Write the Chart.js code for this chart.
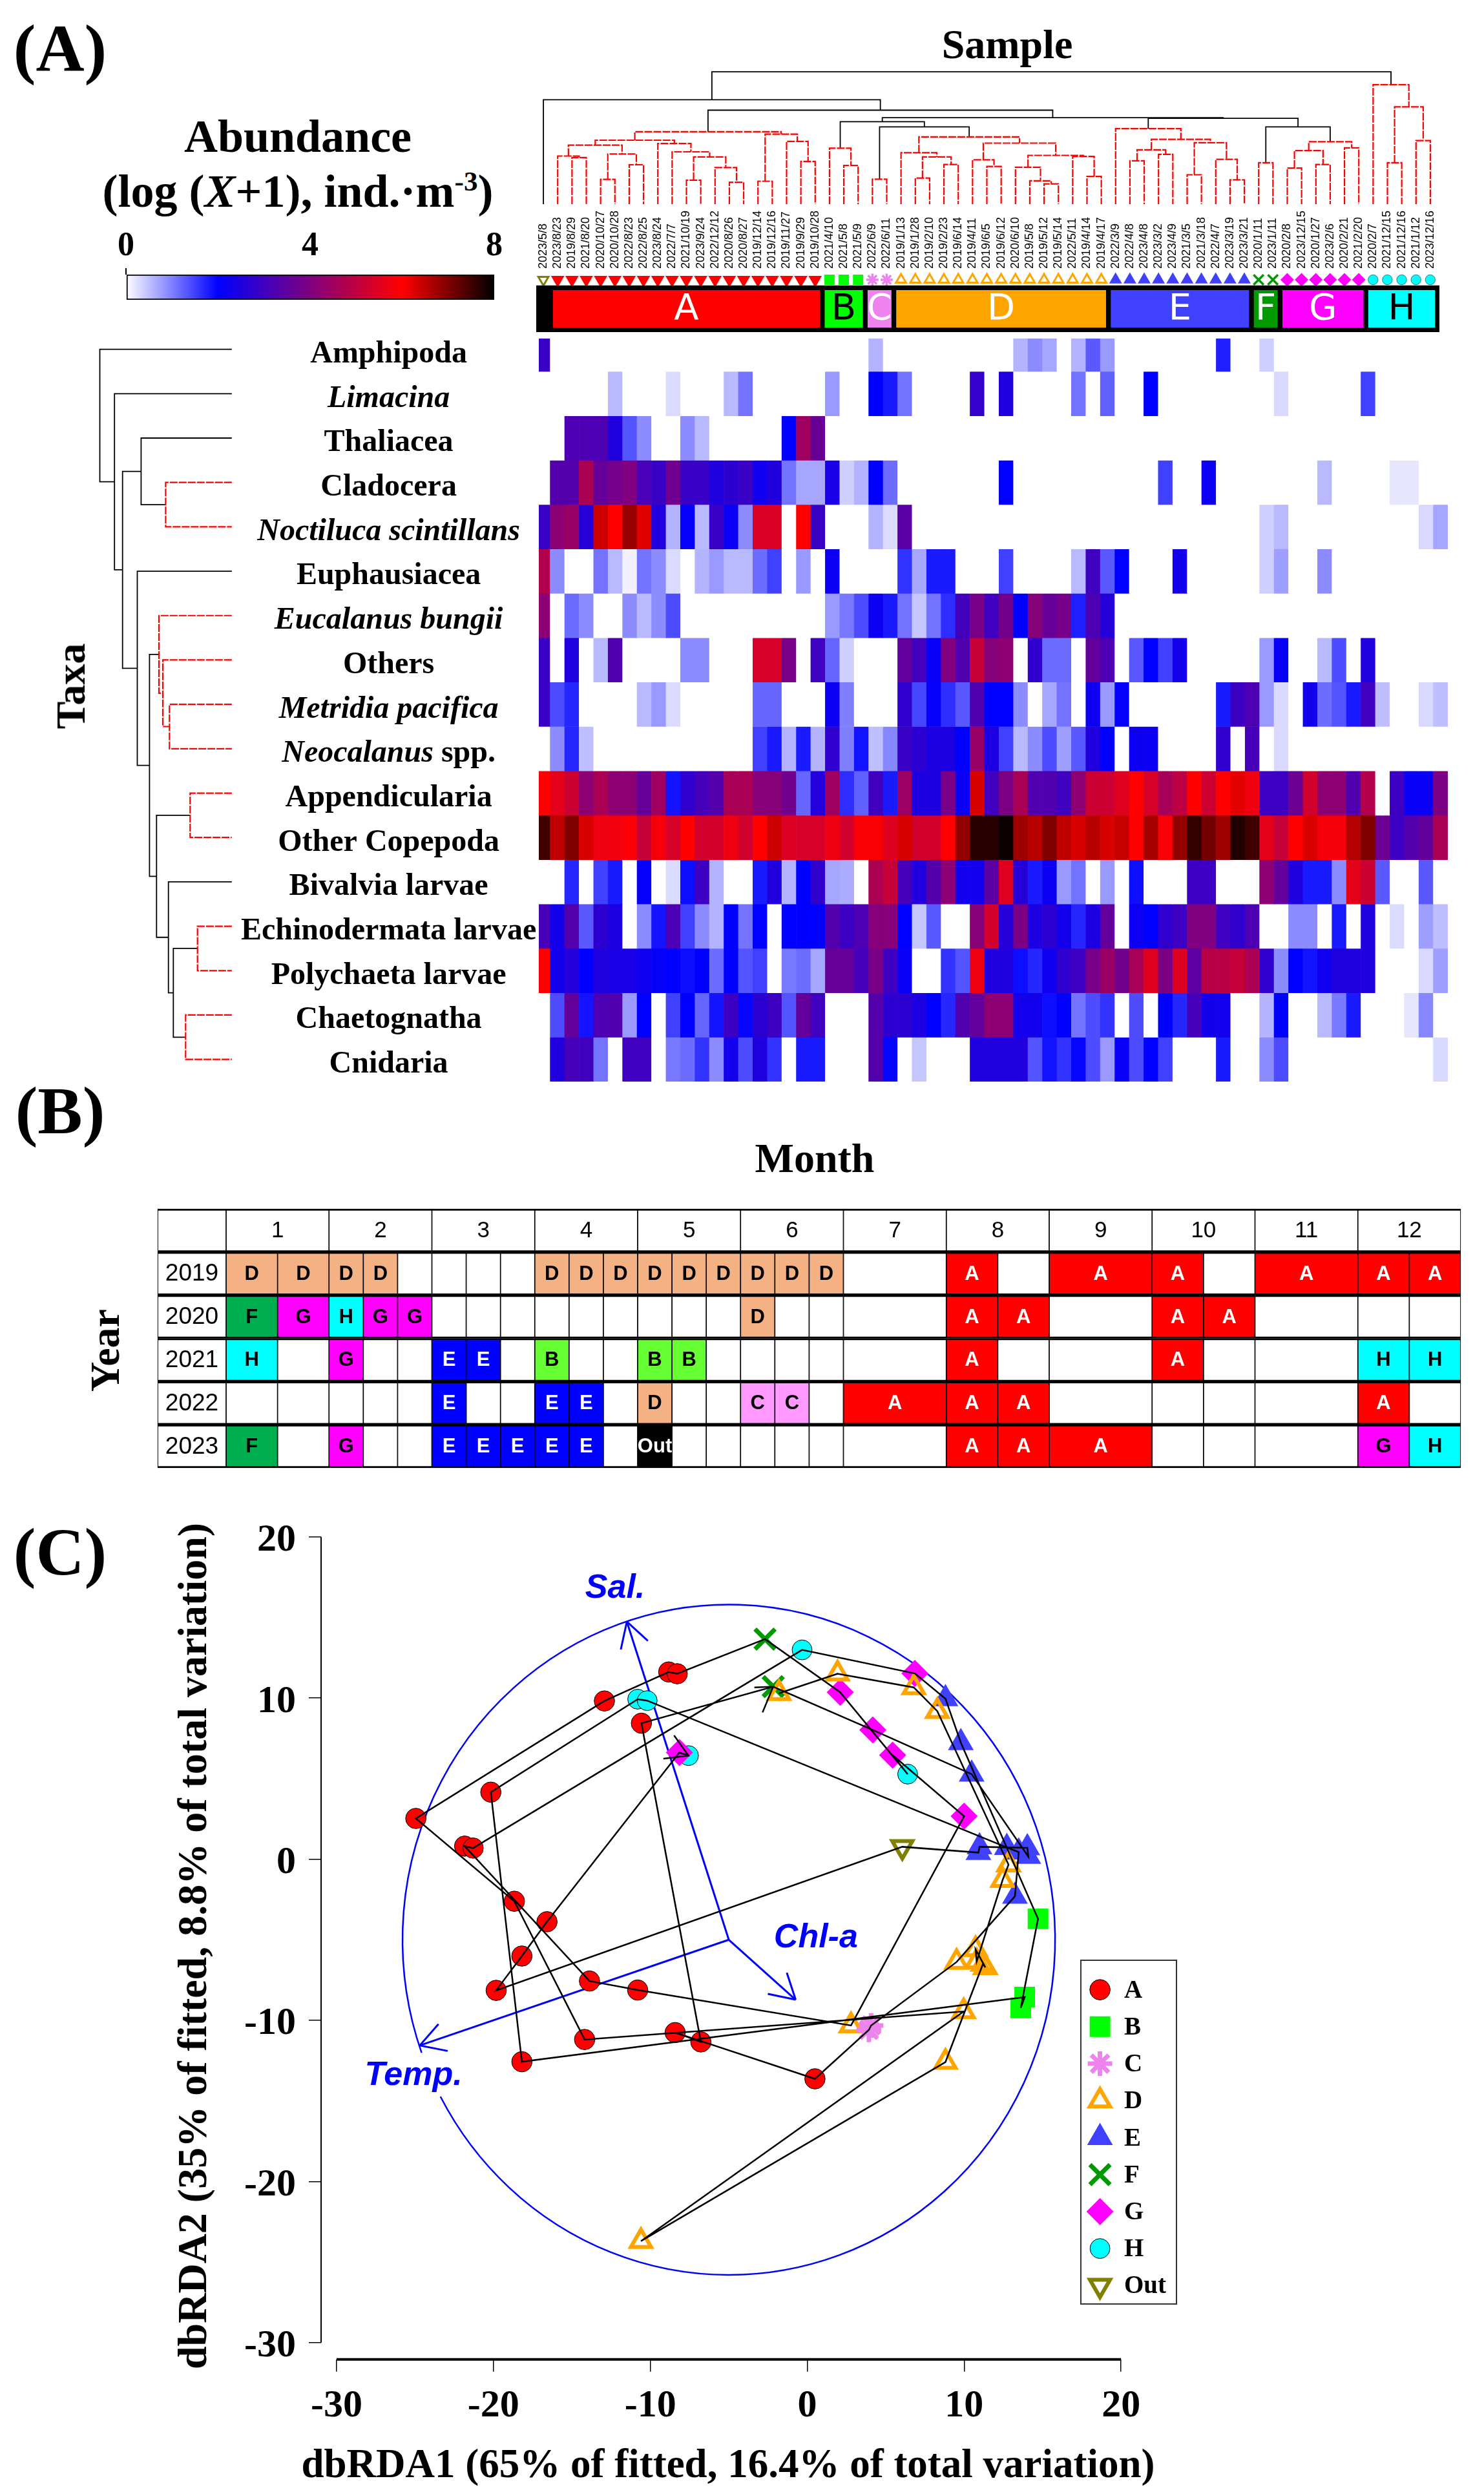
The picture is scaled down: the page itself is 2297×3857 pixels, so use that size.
<!DOCTYPE html>
<html>
<head>
<meta charset="utf-8">
<title>Zooplankton abundance, calendar and dbRDA</title>
<script src="https://cdn.jsdelivr.net/npm/chart.js@4/dist/chart.umd.min.js"></script>
<style>
html, body { margin: 0; background: #fff; }
body { position: relative; width: 2297px; height: 3857px; overflow: hidden; }
canvas { position: absolute; }
.title { position: absolute; font: bold 64px "Liberation Serif", serif; line-height: 1; white-space: nowrap; color: #000; transform: translateX(-50%); z-index: 2; }
.title.turned { transform: translate(-50%, -50%) rotate(-90deg); }
.title sup { font-size: 60%; line-height: 0; }
</style>
</head>
<body>
<div class="title" style="left:93px;top:23px;font-size:104px">(A)</div>
<div class="title" style="left:93px;top:1667px;font-size:104px">(B)</div>
<div class="title" style="left:93px;top:2350px;font-size:104px">(C)</div>
<div class="title" style="left:1559px;top:37px">Sample</div>
<div class="title" style="left:461px;top:175px;font-size:72px">Abundance</div>
<div class="title" style="left:461px;top:260px;font-size:72px">(log (<i>X</i>+1), ind.·m<sup>-3</sup>)</div>
<div class="title turned" style="left:110px;top:1062px">Taxa</div>
<div class="title" style="left:1261px;top:1761px">Month</div>
<div class="title turned" style="left:163px;top:2090px">Year</div>
<div class="title" style="left:1127px;top:3782px;font-size:63px">dbRDA1 (65% of fitted, 16.4% of total variation)</div>
<div class="title turned" style="left:298px;top:3012px">dbRDA2 (35% of fitted, 8.8% of total variation)</div>

<script>
// ---- panel A data ----
var taxa = ['Amphipoda', 'Limacina', 'Thaliacea', 'Cladocera', 'Noctiluca scintillans', 'Euphausiacea',
    'Eucalanus bungii', 'Others', 'Metridia pacifica', 'Neocalanus spp.', 'Appendicularia', 'Other Copepoda',
    'Bivalvia larvae', 'Echinodermata larvae', 'Polychaeta larvae', 'Chaetognatha', 'Cnidaria'];
var italicTaxa = ['Limacina', 'Noctiluca scintillans', 'Eucalanus bungii', 'Metridia pacifica'];

var sampleDates = ['2023/5/8',
    '2023/8/23', '2019/8/29', '2021/8/20', '2020/10/27', '2020/10/28', '2022/8/23', '2022/8/25', '2023/8/24', '2022/7/7', '2021/10/19',
    '2023/9/24', '2022/12/12', '2020/8/26', '2020/8/27', '2019/12/14', '2019/12/16', '2019/11/27', '2019/9/29', '2019/10/28',
    '2021/4/10', '2021/5/8', '2021/5/9', '2022/6/9', '2022/6/11',
    '2019/1/13', '2019/1/28', '2019/2/10', '2019/2/23', '2019/6/14', '2019/4/11', '2019/6/5', '2019/6/12', '2020/6/10',
    '2019/5/8', '2019/5/12', '2019/5/14', '2022/5/11', '2019/4/14', '2019/4/17',
    '2022/3/9', '2022/4/8', '2023/4/8', '2023/3/2', '2023/4/9', '2021/3/5', '2021/3/18', '2022/4/7', '2023/3/19', '2023/3/21',
    '2020/1/11', '2023/1/11', '2020/2/8', '2023/12/15', '2020/1/27', '2023/2/6', '2020/2/21', '2021/2/20',
    '2020/2/7', '2021/12/15', '2021/12/16', '2021/1/12', '2023/12/16'];

var amphipoda = [2.9,0,0,0,0,0,0,0,0,0, 0,0,0,0,0,0,0,0,0,0, 0,0,0,.6,0,0,0,0,0,0, 0,0,0,.6,.9,.7,0,.6,1.3,.8, 0,0,0,0,0,0,0,1.75,0,0, .38,0,0,0,0,0,0,0,0,0, 0,0,0];
var limacina = [0,0,0,0,0,.55,0,0,0,.28, 0,0,0,.55,1.1,0,0,0,0,0, .8,0,0,2,1.8,1.1,0,0,0,0, 2.8,0,2.5,0,0,0,0,1.1,0,1.25, 0,0,2,0,0,0,0,0,0,0, 0,.3,0,0,0,0,0,1.5,0,0, 0,0,0];
var thaliacea = [0,0,3.2,3.2,3.2,2.5,1.33,.9,0,0, .9,.55,0,0,0,0,0,2,4.5,3.65, 0,0,0,0,0,0,0,0,0,0, 0,0,0,0,0,0,0,0,0,0, 0,0,0,0,0,0,0,0,0,0, 0,0,0,0,0,0,0,0,0,0, 0,0,0];
var cladocera = [0,3.3,3.3,4.7,3.6,3.85,4,3.15,2.9,3.75, 2.9,2.9,2.5,2.7,2.9,2.25,2.5,1.1,.7,.7, 2.4,.37,.6,2,1.15,0,0,0,0,0, 0,0,2,0,0,0,0,0,0,0, 0,0,0,1.5,0,0,2.2,0,0,0, 0,0,0,0,.55,0,0,0,0,.2, .2,0,0];
var noctiluca = [2.9,4.2,4.4,2.6,6.4,6,6.8,6.25,2.5,.6, 2.1,.55,2.9,2.15,.9,5.4,5.4,0,6,2.9, 0,0,0,.6,.28,3.4,0,0,0,0, 0,0,0,0,0,0,0,0,0,0, 0,0,0,0,0,0,0,0,0,0, .37,.55,0,0,0,0,0,0,0,0, 0,.3,.7];
var euphausiacea = [4.8,.9,0,0,1.1,.55,.1,1.1,.9,.28, 0,.6,.8,.55,.55,1.15,1.5,0,.8,0, 2.2,0,0,0,0,1.6,.7,1.8,1.8,0, 0,0,1.5,0,0,0,0,.55,3,1.3, 2,0,0,0,2.3,0,0,0,0,0, .37,.75,0,0,.9,0,0,0,0,0, 0,0,0];
var eucalanus = [4.2,0,1.15,.9,0,0,.9,.55,.9,1.4, 0,0,0,0,0,0,0,0,0,0, .8,1.05,1.4,2.2,1.8,1.1,.45,1.1,1.65,3.05, 3.9,3,3.8,2,4.1,3.6,3.85,1.75,3.2,2.6, 0,0,0,0,0,0,0,0,0,0, 0,0,0,0,0,0,0,0,0,0, 0,0,0];
var others = [2.9,0,2.5,0,.55,3.25,0,0,0,0, .9,.9,0,0,0,5.35,5.35,3.9,0,3, 1.2,.37,0,0,0,3.55,3.05,2.15,4,3.25, 5.1,4.1,4.2,0,2.75,1.15,1.15,0,3.55,3.2, 0,1.3,2,1.5,2.3,0,0,0,0,0, .8,2.1,0,0,.55,1.4,0,2.5,0,0, 0,0,0];
var metridia = [2.9,1.4,1.7,0,0,0,0,.55,.8,.28, 0,0,0,0,0,1.2,1.2,0,0,0, 2.2,1,0,0,0,2.75,1.45,2.1,1.65,1.3, 3.25,2,2,.9,0,.7,1.1,0,2.2,.8, 2.1,0,0,0,0,0,0,1.8,2.95,3.2, .8,.3,0,2.3,1.15,1.35,1.8,3,.5,0, 0,.3,.5];
var neocalanus = [0,.9,1.7,.5,0,0,0,0,0,0, 0,0,0,0,0,1.5,1.8,.6,1.8,.6, 2.75,1,1.85,.5,.95,2.9,2.7,2.45,2.45,2, 4.4,2.45,1.5,.55,.9,1.4,.75,1.3,2.5,2, 0,2.2,2.2,0,0,0,0,2.75,0,3.1, 0,.3,0,0,0,0,0,0,0,0, 0,0,0];
var appendicularia = [6,5.6,5.2,4.2,4.65,4.2,4.2,3.6,4.5,1.85, 2.75,3.1,3.3,4.65,4.65,4.1,4.1,3.8,1.2,2.55, 4.5,1.65,1.25,3,1.8,4.45,2.45,2.45,3.9,2.15, 6.3,3,3.95,4.65,3.25,3.25,3,4.2,5.2,5.2, 5.5,6,5.35,4.6,4.95,6,5.2,6,6.2,5.75, 2.95,2.95,3.7,5.3,4.2,4.2,3.25,4.8,0,2.95, 2.15,2.15,3.95];
var otherCopepoda = [7.5,6.5,7,6.3,5.75,5.8,5.9,5.1,5.85,5.35, 6,5.3,5.3,5.75,5.3,6,6.4,5.45,5.35,5.35, 5.75,5.3,5.9,5.9,5.5,6.3,5.3,5.3,6,6.85, 7.7,7.7,7.9,6.75,6.55,7,6.5,6.3,6.55,6.3, 6.45,6,6.7,5.9,6.85,7.6,7.1,6.75,7.75,7.5, 5.6,5.1,6,6.3,5.85,5.85,6.6,7,3.7,2.95, 3.3,3.55,4.65];
var bivalvia = [0,0,1.7,0,1.5,1.8,0,2.1,0,.28, 1.9,2.95,.6,0,0,1.8,2.5,.6,2,2.75, .7,.65,0,4.7,5.1,3.1,2.5,3.3,4.2,2.3, 2.3,3.45,5.5,2.6,1.8,2.2,.8,1.1,0,.8, 0,1.9,0,0,0,2.95,2.95,0,0,0, 4.2,3.55,2.5,1.8,1.8,.9,5.6,5.2,1.3,0, 0,1.3,0];
var echinodermata = [3.1,2.3,3.3,1.3,2.7,2.45,0,.9,1.85,3.2, 1.5,.9,.6,2,1.1,2,0,2,2,2, 3.3,2.95,3.2,4.1,4.1,2,.45,1.3,0,0, 4.1,5.3,2.6,3.95,2.45,2.7,2.3,1.7,2.45,3.55, 0,2.2,2,2.75,2.95,4,4,3,2.75,3.2, 0,0,.9,.9,0,1.8,0,2.5,0,.28, 0,.75,.5];
var polychaeta = [6,2.3,2.55,2,2.5,2.4,2.4,2.25,2.1,2, 1.9,2,1.15,2,1.35,1.5,0,1.05,1.15,.7, 3.6,3.6,3.1,3.9,2.95,2.15,0,0,1.6,1.35, 5.75,2.5,2.5,1.9,1.7,2.25,2.75,2.95,3.9,4.4, 3.8,4.6,5.5,3.95,5.45,3.45,4.9,4.9,5.1,4.65, 2.75,.9,2,1.85,2.25,2.5,2.5,2.5,0,0, 0,.3,.75];
var chaetognatha = [0,1.4,3.55,1.85,3.2,3.25,.8,2,0,1.5, 2,1.2,1.85,2.95,1.95,2.7,2.95,1.35,3.55,3, 0,0,0,3.3,2.7,2.7,2.45,2,1.7,3.25, 3.55,4.2,4.2,2.3,2.3,1.9,2,1.1,1.4,1.6, 0,1.4,0,2,1.7,3.1,2.3,2.3,0,0, .6,2,0,0,.55,1.05,1.8,0,0,0, .2,.95,0];
var cnidaria = [0,2.5,3.1,3,1.1,0,3,3,0,1.05, 1.15,1.6,.9,2.3,1.4,2.5,1.6,0,1.8,1.8, 0,0,0,3.3,1.95,0,.45,0,0,0, 2.5,2.5,2.5,2.5,1.35,1.85,1.6,1.95,1.4,.8, 2.15,1.4,2,1.5,0,0,0,1.8,0,0, .9,1.4,0,0,0,0,0,0,0,0, 0,0,.3];
var abundanceRows = [amphipoda, limacina, thaliacea, cladocera, noctiluca, euphausiacea, eucalanus, others, metridia,
    neocalanus, appendicularia, otherCopepoda, bivalvia, echinodermata, polychaeta, chaetognatha, cnidaria];

var colourBarTicks = [0, 4, 8];
var colourBarStops = [0, 2, 6, 8];
var colourBarRgb = [[255, 255, 255], [0, 0, 255], [255, 0, 0], [0, 0, 0]];

// trees: [height, left, right, isBlack], a bare number is a leaf index
var sampleTree = [204.8,
    [161.7, 0,
        [145.5,
            [112.1,
                [99,
                    [91.4,
                        [74.5, 1, [72.1, 2, 3]],
                        [77.6, [38.3, 4, 5], [61, 6, 7]]],
                    [93.8, 8,
                        [81, 9,
                            [73.1, [37.2, 10, 11], [56.6, 12, [33.8, 13, 14]]]]]],
                [108.3, [35.5, 15, 16], [97.2, 17, [66.2, 18, 19]]]],
            [133.8,
                [127.6,
                    [86.6, 20, [60, 21, 22]],
                    [119.7,
                        [38.6, 23, 24],
                        [104.1,
                            [79.7, 25, [73.1, [40.3, 26, 27], [61.4, 28, 29]]],
                            [94.5,
                                [68.6, 30, [58.3, 31, 32]],
                                [75.5,
                                    [57.2, 33, [36.2, 34, [31.4, 35, 36]]],
                                    [73.8, 37, [42.8, 38, 39]]]]], 1], 1],
                [132.8,
                    [116.9, 40,
                        [100.3,
                            [84.1, [67.2, 41, 42], [77.2, 43, 44]],
                            [95.2, [45.5, 45, 46], [69.3, 47, [37.6, 48, 49]]]]],
                    [119.7,
                        [64.1, 50, 51],
                        [96.6,
                            [82.8, [55.9, 52, 53], [61.4, 54, 55]],
                            [87.2, 56, 57]], 1], 1], 1], 1], 1],
    [184.8, 58, [150.7, [64.1, 59, 60], [98.3, 61, 62]]], 1];

var taxaTree = [204.3, 0,
    [181.6, 1,
        [169.1,
            [140.4, 2, [102.4, 3, 4], 1],
            [146.3, 5,
                [127.4,
                    [112.8, 6, [106.8, 7, [96.5, 8, 9]]],
                    [116.5,
                        [64.5, 10, 11],
                        [98.1, 12,
                            [90.5, [53.1, 13, 14], [71.5, 15, 16], 1], 1], 1], 1], 1], 1], 1], 1];

var clusterNames = ['A', 'B', 'C', 'D', 'E', 'F', 'G', 'H'];
var clusterStart = [1, 20, 23, 25, 40, 50, 52, 58];
var clusterEnd = [20, 23, 25, 40, 50, 52, 58, 63];

// ---- panel B data, one entry per slot of a month ----
var months = [1, 2, 3, 4, 5, 6, 7, 8, 9, 10, 11, 12];
var monthSlots = [2, 3, 3, 3, 3, 3, 1, 2, 1, 2, 1, 2];
var years = ['2019', '2020', '2021', '2022', '2023'];
var calendar2019 = ['D','D', 'D','D','', '','','', 'D','D','D', 'D','D','D', 'D','D','D', '', 'A','', 'A', 'A','', 'A', 'A','A'];
var calendar2020 = ['F','G', 'H','G','G', '','','', '','','', '','','', 'D','','', '', 'A','A', '', 'A','A', '', '',''];
var calendar2021 = ['H','', 'G','','', 'E','E','', 'B','','', 'B','B','', '','','', '', 'A','', '', 'A','', '', 'H','H'];
var calendar2022 = ['','', '','','', 'E','','', 'E','E','', 'D','','', 'C','C','', 'A', 'A','A', '', '','', '', 'A',''];
var calendar2023 = ['F','', 'G','','', 'E','E','E', 'E','E','', 'Out','','', '','','', '', 'A','A', 'A', '','', '', 'G','H'];
var calendarRows = [calendar2019, calendar2020, calendar2021, calendar2022, calendar2023];

// ---- panel C data, samples in date order ----
var ordinationGroup = ['D','D','D','D','D','D','D','D','D','D','D','D','D','A','A','A','A','A','A',
    'F','G','H','G','G','D','A','A','A','A',
    'H','G','E','E','B','B','B','A','A','H','H',
    'E','E','E','D','C','C','A','A','A','A',
    'F','G','E','E','E','E','E','Out','A','A','A','G','H'];
var ordinationX = [-1.8,1.93,6.79,8.29,12.83,12.45,10.8,10.73,11.35,11.2,8.81,-10.6,9.97,-14.19,-18.67,-24.95,-12.93,-8.83,-8.29,
    -2.69,2.1,6.4,5.44,10,2.79,-10.81,-13.88,-21.84,-21.3,
    -.33,6.86,8.81,9.79,14.71,13.61,13.86,-18.19,-20.17,-10.81,-10.2,
    12.72,13.48,13.24,9.52,4.07,3.93,.49,-8.42,-6.78,-10.57,
    -2.17,4.18,10.48,14.09,14.03,10.98,10.91,6.06,-19.83,-18.19,-16.59,-8.15,-7.57];
var ordinationY = [10.3,11.51,10.66,9.19,-.34,-1.3,-6.35,-5.6,-6.71,-6.5,-12.59,-23.7,-9.45,-11.19,-2.61,2.53,9.82,11.62,11.51,
    13.66,10.36,5.28,6.46,2.67,-10.32,-8.12,-7.56,.81,.69,
    12.99,11.53,9.96,7.23,-3.7,-9.23,-8.56,-12.57,4.16,9.93,9.84,
    .73,.44,-2.3,-6.38,-10.32,-10.59,-13.63,-10.76,-11.34,8.44,
    10.71,8.02,5.28,.17,.71,.77,.41,.77,-8.14,-6.01,-3.88,6.62,6.43];
var arrowStubX = [-8.49, -7.57, -9.17, NaN, -3.37, -2.17, -2.85];
var arrowStubY = [7.68, 6.43, 6.24, NaN, 10.66, 10.71, 9.11];

var vectorNames = ['Temp.', 'Sal.', 'Chl-a'];
var vectorX = [-24.7, -11.5, -.74];
var vectorY = [-11.56, 14.74, -8.72];
var vectorLabelX = [-25.1, -12.25, .55];
var vectorLabelY = [-13.45, 16.8, -4.9];
var vectorOrigin = -5;
var ringRadius = 20.8;

var ordinationTicks = [-30, -20, -10, 0, 10, 20];
var legendGroups = ['A', 'B', 'C', 'D', 'E', 'F', 'G', 'H', 'Out'];

// ---- styles ----
var SERIF = '"Liberation Serif", serif';
var SANS = '"Liberation Sans", sans-serif';
var groupColour = { A: '#ff0000', B: '#00ff00', C: '#ee82ee', D: '#ffa500', E: '#4040ff', F: '#009900', G: '#ff00ff', H: '#00ffff', Out: '#808000' };
var calendarColour = { A: '#ff0000', B: '#66ff33', C: '#ff99ff', D: '#f4b183', E: '#0000ff', F: '#00b050', G: '#ff00ff', H: '#00ffff', Out: '#000000' };
var markerStyle = {
    A: { style: 'circle', radius: 15.8, width: 1, fill: true, edge: '#000' },
    B: { style: 'rect', radius: 22.6, width: 0, fill: true },
    C: { style: 'star', radius: 19, width: 7, fill: false },
    D: { style: 'triangle', radius: 18, width: 6, fill: false },
    E: { style: 'triangle', radius: 23, width: 0, fill: true },
    F: { style: 'crossRot', radius: 22, width: 7, fill: false },
    G: { style: 'rectRot', radius: 21, width: 0, fill: true },
    H: { style: 'circle', radius: 15.4, width: 1, fill: true, edge: '#000' },
    Out: { style: 'triangle', radius: 18, width: 6, fill: false, turned: true }
};
// group A is a turned solid triangle in the strip above the heat map
var stripA = { style: 'triangle', radius: 24, width: 0, fill: true, turned: true };

Chart.defaults.animation = false;
Chart.defaults.responsive = false;
Chart.defaults.devicePixelRatio = 1;
// keep every chart area exactly where the layout padding puts it
Chart.defaults.layout.autoPadding = false;
Chart.defaults.plugins.legend.display = false;
Chart.defaults.plugins.tooltip.enabled = false;
Chart.defaults.color = '#000';

function addCanvas(left, top, width, height) {
    var canvas = document.createElement('canvas');
    canvas.width = width;
    canvas.height = height;
    canvas.style.left = left + 'px';
    canvas.style.top = top + 'px';
    document.body.appendChild(canvas);
    return canvas;
}

function heatColour(value) {
    var i = 0;
    while (i < colourBarStops.length - 2 && value > colourBarStops[i + 1]) {
        i++;
    }
    var t = (value - colourBarStops[i]) / (colourBarStops[i + 1] - colourBarStops[i]);
    var a = colourBarRgb[i];
    var b = colourBarRgb[i + 1];
    return 'rgb(' + Math.round(a[0] + (b[0] - a[0]) * t) + ',' + Math.round(a[1] + (b[1] - a[1]) * t) + ',' + Math.round(a[2] + (b[2] - a[2]) * t) + ')';
}

function sampleGroup(index) {
    if (index === 0) {
        return 'Out';
    }
    for (var c = 0; c < clusterNames.length; c++) {
        if (index < clusterEnd[c]) {
            return clusterNames[c];
        }
    }
}

// flatten a tree to line segments, separated by NaN points
function treeLines(tree, swap) {
    var black = [];
    var red = [];
    function add(list, pos, height) {
        list.push(swap ? { x: height, y: pos } : { x: pos, y: height });
    }
    function walk(node) {
        if (typeof node === 'number') {
            return { pos: node + 0.5, height: 0 };
        }
        var left = walk(node[1]);
        var right = walk(node[2]);
        var list = node[3] ? black : red;
        add(list, left.pos, left.height);
        add(list, left.pos, node[0]);
        add(list, right.pos, node[0]);
        add(list, right.pos, right.height);
        list.push({ x: NaN, y: NaN });
        return { pos: (left.pos + right.pos) / 2, height: node[0] };
    }
    walk(tree);
    return [
        { data: red, showLine: true, pointRadius: 0, borderColor: '#ff0000', borderWidth: 2.2, borderDash: [12, 2], clip: false },
        { data: black, showLine: true, pointRadius: 0, borderColor: '#000', borderWidth: 1.8, clip: false }
    ];
}

// text in the middle of a bar, taken from the dataset
var barTextPlugin = {
    id: 'barText',
    afterDatasetsDraw: function (chart) {
        var ctx = chart.ctx;
        chart.data.datasets.forEach(function (dataset, d) {
            if (!dataset.barText) {
                return;
            }
            chart.getDatasetMeta(d).data.forEach(function (bar, i) {
                if (!dataset.barText[i]) {
                    return;
                }
                var p = bar.getCenterPoint();
                ctx.save();
                ctx.font = dataset.barFont[i];
                ctx.fillStyle = dataset.barInk[i];
                ctx.textAlign = 'center';
                ctx.textBaseline = 'middle';
                ctx.fillText(dataset.barText[i], p.x, p.y + 1);
                ctx.restore();
            });
        });
    }
};

// ---- sample tree ----
new Chart(addCanvas(830.3, 106, 1395, 210), {
    type: 'scatter',
    data: { datasets: treeLines(sampleTree, false) },
    options: {
        scales: {
            x: { display: false, min: 0, max: 63 },
            y: { display: false, min: 0, max: 210 }
        }
    }
});

// ---- sample dates, markers and cluster band ----
function stripMarkers() {
    var styles = sampleDates.map(function (d, i) {
        var group = sampleGroup(i);
        return group === 'A' ? stripA : markerStyle[group];
    });
    var colours = sampleDates.map(function (d, i) { return groupColour[sampleGroup(i)]; });
    return {
        type: 'scatter',
        order: 3,
        data: sampleDates.map(function (d, i) { return { x: i + 0.5, y: 81 }; }),
        pointStyle: styles.map(function (s) { return s.style; }),
        pointRadius: styles.map(function (s) { return s.radius * 0.5; }),
        pointRotation: styles.map(function (s) { return s.turned ? 180 : 0; }),
        pointBorderWidth: styles.map(function (s) { return s.width * 0.5; }),
        pointBorderColor: styles.map(function (s, i) { return s.edge || colours[i]; }),
        pointBackgroundColor: styles.map(function (s, i) { return s.fill ? colours[i] : 'rgba(0,0,0,0)'; })
    };
}

new Chart(addCanvas(800.3, 310, 1458, 204), {
    type: 'bar',
    data: {
        datasets: [
            {
                order: 1,
                grouped: false,
                barThickness: 58,
                data: clusterNames.map(function (n, c) { return { x: [clusterStart[c], clusterEnd[c]], y: 36 }; }),
                backgroundColor: clusterNames.map(function (n) { return groupColour[n]; }),
                borderColor: '#000',
                borderWidth: { top: 0, bottom: 0, left: 4, right: 4 },
                borderSkipped: false,
                barText: clusterNames,
                barFont: clusterNames.map(function () { return '56px "DejaVu Sans", sans-serif'; }),
                barInk: ['#fff', '#000', '#fff', '#fff', '#fff', '#fff', '#fff', '#000']
            },
            {
                order: 2,
                grouped: false,
                barThickness: 72,
                data: [{ x: [0, 63.14], y: 36 }],
                backgroundColor: '#000'
            },
            stripMarkers()
        ]
    },
    options: {
        indexAxis: 'y',
        layout: { padding: { left: 30, right: 30 } },
        scales: {
            x: {
                type: 'linear',
                position: 'top',
                min: 0,
                max: 63.14,
                offset: false,
                grid: { display: false, drawTicks: false },
                border: { display: false },
                afterBuildTicks: function (scale) {
                    scale.ticks = sampleDates.map(function (d, i) { return { value: i + 0.5 }; });
                },
                afterFit: function (scale) { scale.height = 108; },
                ticks: {
                    autoSkip: false,
                    minRotation: 90,
                    maxRotation: 90,
                    padding: 2,
                    // a turned label on a top axis lands one line height to the left
                    labelOffset: 21.6,
                    font: { family: SANS, size: 18 },
                    callback: function (value, index) { return sampleDates[index]; }
                }
            },
            y: { type: 'linear', display: false, min: 0, max: 96, offset: false }
        }
    },
    plugins: [barTextPlugin]
});

// ---- colour bar ----
new Chart(addCanvas(150, 350, 670, 130), {
    type: 'bar',
    data: {
        labels: ['abundance'],
        datasets: [{
            data: [[0, 8]],
            barPercentage: 1,
            categoryPercentage: 1,
            borderColor: '#000',
            borderWidth: { top: 2, bottom: 2, left: 2, right: 0 },
            borderSkipped: false,
            backgroundColor: function (context) {
                var area = context.chart.chartArea;
                if (!area) {
                    return '#fff';
                }
                var gradient = context.chart.ctx.createLinearGradient(area.left, 0, area.right, 0);
                colourBarStops.forEach(function (stop) {
                    gradient.addColorStop(stop / 8, heatColour(stop));
                });
                return gradient;
            }
        }]
    },
    options: {
        indexAxis: 'y',
        layout: { padding: { left: 45, right: 55, bottom: 16 } },
        scales: {
            x: {
                position: 'top',
                min: 0,
                max: 8,
                afterBuildTicks: function (scale) {
                    scale.ticks = colourBarTicks.map(function (v) { return { value: v }; });
                },
                afterFit: function (scale) { scale.height = 75; },
                grid: {
                    drawOnChartArea: false,
                    tickLength: 10,
                    lineWidth: 2,
                    color: function (context) { return context.tick && context.tick.value === 0 ? '#000' : 'rgba(0,0,0,0)'; }
                },
                border: { display: false },
                ticks: { padding: 2, font: { family: SERIF, weight: 'bold', size: 52 }, callback: function (v) { return String(v); } }
            },
            y: { display: false }
        }
    }
});

// ---- taxa tree with the row names ----
var taxaNamesPlugin = {
    id: 'taxaNames',
    afterDraw: function (chart) {
        var ctx = chart.ctx;
        var scale = chart.scales.y;
        ctx.save();
        ctx.textBaseline = 'middle';
        ctx.fillStyle = '#000';
        taxa.forEach(function (name, r) {
            var y = scale.getPixelForValue(r + 0.5) + 8;
            var parts;
            if (/ spp\.$/.test(name)) {
                parts = [[name.replace(' spp.', ''), true], [' spp.', false]];
            } else {
                parts = [[name, italicTaxa.indexOf(name) >= 0]];
            }
            var total = 0;
            parts.forEach(function (part) {
                ctx.font = (part[1] ? 'italic ' : '') + 'bold 48px ' + SERIF;
                total += ctx.measureText(part[0]).width;
            });
            var x = 601.6 - total / 2;
            parts.forEach(function (part) {
                ctx.font = (part[1] ? 'italic ' : '') + 'bold 48px ' + SERIF;
                ctx.fillText(part[0], x, y);
                x += ctx.measureText(part[0]).width;
            });
        });
        ctx.restore();
    }
};

new Chart(addCanvas(0, 500, 834, 1180), {
    type: 'scatter',
    data: { datasets: treeLines(taxaTree, true) },
    options: {
        layout: { padding: { left: 100, right: 475.2, top: 6.3, bottom: 6 } },
        scales: {
            x: { display: false, reverse: true, min: 0, max: 258.8 },
            y: { display: false, reverse: true, min: 0, max: 17 }
        }
    },
    plugins: [taxaNamesPlugin]
});

// ---- heat map, one floating bar per cell ----
new Chart(addCanvas(834, 524, 1407, 1150), {
    type: 'bar',
    data: {
        datasets: abundanceRows.map(function (row, r) {
            return {
                label: taxa[r],
                grouped: false,
                barPercentage: 1,
                categoryPercentage: 1,
                backgroundColor: row.map(heatColour),
                data: row.map(function (v, i) { return { x: i + 0.5, y: [r, r + 1] }; })
            };
        })
    },
    options: {
        scales: {
            x: { type: 'linear', display: false, min: 0.214, max: 63, offset: false },
            y: { type: 'linear', display: false, reverse: true, min: 0.258, max: 17, offset: false }
        }
    }
});

// ---- panel B calendar ----
function calendarCells() {
    var cells = { data: [], colour: [], text: [], ink: [], font: [] };
    function cell(row, from, to, colour, text, ink, font) {
        cells.data.push({ x: [from, to], y: row });
        cells.colour.push(colour);
        cells.text.push(text);
        cells.ink.push(ink);
        cells.font.push(font);
    }
    var headFont = '35px ' + SANS;
    var yearFont = '37px ' + SANS;
    var letterFont = 'bold 31px ' + SANS;
    cell('Month', 0.3344, 1, '#fff', '', '#000', headFont);
    months.forEach(function (m) {
        cell('Month', m, m + 1, '#fff', String(m), '#000', headFont);
    });
    years.forEach(function (year, y) {
        cell(year, 0.3344, 1, '#fff', year, '#000', yearFont);
        var slot = 0;
        months.forEach(function (m, k) {
            for (var s = 0; s < monthSlots[k]; s++) {
                var name = calendarRows[y][slot];
                var light = name === 'A' || name === 'E' || name === 'Out';
                cell(year, m + s / monthSlots[k], m + (s + 1) / monthSlots[k],
                    name ? calendarColour[name] : '#fff', name, light ? '#fff' : '#000', letterFont);
                slot++;
            }
        });
    });
    return cells;
}

var cells = calendarCells();
new Chart(addCanvas(236, 1863, 2036, 418), {
    type: 'bar',
    data: {
        datasets: [{
            clip: false,
            barPercentage: 1,
            categoryPercentage: 1,
            data: cells.data,
            backgroundColor: cells.colour,
            borderColor: '#000',
            borderWidth: { left: 1.2, right: 1.2, top: 3, bottom: 3 },
            borderSkipped: false,
            barText: cells.text,
            barFont: cells.font,
            barInk: cells.ink
        }]
    },
    options: {
        indexAxis: 'y',
        layout: { padding: { left: 8, right: 11, top: 8, bottom: 9 } },
        scales: {
            x: { type: 'linear', display: false, min: 0.3344, max: 13, offset: false },
            y: { type: 'category', display: false, labels: ['Month'].concat(years) }
        }
    },
    plugins: [barTextPlugin]
});

// ---- panel C ordination ----
function groupDataset(group) {
    var style = markerStyle[group];
    var points = [];
    ordinationGroup.forEach(function (g, i) {
        if (g === group) {
            points.push({ x: ordinationX[i], y: ordinationY[i] });
        }
    });
    return {
        label: group,
        order: 2,
        data: points,
        pointStyle: style.style,
        pointRadius: style.radius,
        pointRotation: style.turned ? 180 : 0,
        pointBorderWidth: style.width,
        pointBorderColor: style.edge || groupColour[group],
        pointBackgroundColor: style.fill ? groupColour[group] : 'rgba(0,0,0,0)'
    };
}

function pairs(xs, ys) {
    return xs.map(function (x, i) { return { x: x, y: ys[i] }; });
}

var biplotPlugin = {
    id: 'biplot',
    beforeDatasetsDraw: function (chart) {
        var ctx = chart.ctx;
        var x = chart.scales.x;
        var y = chart.scales.y;
        var cx = x.getPixelForValue(vectorOrigin);
        var cy = y.getPixelForValue(vectorOrigin);
        ctx.save();
        ctx.strokeStyle = '#0000ff';
        ctx.fillStyle = '#0000ff';
        ctx.lineWidth = 2.5;
        // the ring stops where the Temp. label sits
        ctx.beginPath();
        ctx.ellipse(cx, cy, x.getPixelForValue(vectorOrigin + ringRadius) - cx, cy - y.getPixelForValue(vectorOrigin + ringRadius),
            0, 160.3 * Math.PI / 180, (152.1 + 360) * Math.PI / 180);
        ctx.stroke();
        ctx.lineWidth = 3;
        vectorNames.forEach(function (name, i) {
            var tipX = x.getPixelForValue(vectorX[i]);
            var tipY = y.getPixelForValue(vectorY[i]);
            var back = Math.atan2(cy - tipY, cx - tipX);
            [-1, 1].forEach(function (side) {
                ctx.beginPath();
                ctx.moveTo(tipX, tipY);
                ctx.lineTo(tipX + 44 * Math.cos(back + side * Math.PI / 6), tipY + 44 * Math.sin(back + side * Math.PI / 6));
                ctx.stroke();
            });
            ctx.font = 'italic bold 52px ' + SANS;
            ctx.textAlign = 'center';
            ctx.textBaseline = 'middle';
            ctx.fillText(name, x.getPixelForValue(vectorLabelX[i]), y.getPixelForValue(vectorLabelY[i]));
        });
        ctx.restore();
    },
    afterDraw: function (chart) {
        var ctx = chart.ctx;
        var x = chart.scales.x;
        var y = chart.scales.y;
        ctx.save();
        ctx.strokeStyle = '#000';
        ctx.lineWidth = 4;
        ctx.beginPath();
        ctx.moveTo(x.getPixelForValue(-30), chart.chartArea.bottom);
        ctx.lineTo(x.getPixelForValue(20), chart.chartArea.bottom);
        ctx.stroke();
        ctx.lineWidth = 2;
        ctx.beginPath();
        ctx.moveTo(chart.chartArea.left, y.getPixelForValue(-30));
        ctx.lineTo(chart.chartArea.left, y.getPixelForValue(20));
        ctx.stroke();
        ctx.restore();
    }
};

function fixedTicks(scale) {
    scale.ticks = ordinationTicks.map(function (v) { return { value: v }; });
}

var ordinationSets = legendGroups.map(groupDataset);
ordinationSets.push({
    label: 'path',
    order: 1,
    data: pairs(ordinationX, ordinationY),
    showLine: true,
    pointRadius: 0,
    borderColor: '#000',
    borderWidth: 2.5
});
ordinationSets.push({
    label: 'arrow ends',
    order: 1,
    data: pairs(arrowStubX, arrowStubY),
    showLine: true,
    pointRadius: 0,
    borderColor: '#000',
    borderWidth: 2.5
});
vectorNames.forEach(function (name, i) {
    ordinationSets.push({
        label: name,
        order: 3,
        data: [{ x: vectorOrigin, y: vectorOrigin }, { x: vectorX[i], y: vectorY[i] }],
        showLine: true,
        pointRadius: 0,
        borderColor: '#0000ff',
        borderWidth: 3
    });
});

new Chart(addCanvas(0, 2300, 1900, 1557), {
    type: 'scatter',
    data: { datasets: ordinationSets },
    options: {
        layout: { padding: { top: 78.8, right: 143 } },
        scales: {
            x: {
                min: -30.99,
                max: 20.9,
                afterBuildTicks: fixedTicks,
                afterFit: function (scale) { scale.height = 205.3; },
                grid: { drawOnChartArea: false, tickLength: 19, color: '#000', lineWidth: 1.5 },
                border: { display: false },
                ticks: { padding: 18, font: { family: SERIF, weight: 'bold', size: 60 }, callback: function (v) { return String(v); } }
            },
            y: {
                min: -31.04,
                max: 20,
                afterBuildTicks: fixedTicks,
                afterFit: function (scale) { scale.width = 497; },
                grid: { drawOnChartArea: false, tickLength: 19, color: '#000', lineWidth: 1.5 },
                border: { display: false },
                ticks: { padding: 20, labelOffset: 6, font: { family: SERIF, weight: 'bold', size: 60 }, callback: function (v) { return String(v); } }
            }
        }
    },
    plugins: [biplotPlugin]
});

// ---- panel C legend ----
var legendNamesPlugin = {
    id: 'legendNames',
    afterDraw: function (chart) {
        var ctx = chart.ctx;
        ctx.save();
        ctx.font = 'bold 39px ' + SERIF;
        ctx.fillStyle = '#000';
        ctx.textBaseline = 'middle';
        legendGroups.forEach(function (group, i) {
            ctx.fillText(group, 67, chart.scales.y.getPixelForValue(i) + 2);
        });
        ctx.restore();
    }
};

var legendCanvas = addCanvas(1673, 3034, 148, 532);
legendCanvas.style.outline = '2px solid #333';
legendCanvas.style.outlineOffset = '-1px';
new Chart(legendCanvas, {
    type: 'scatter',
    data: {
        datasets: [{
            data: legendGroups.map(function (g) { return { x: 0.2, y: g }; }),
            pointStyle: legendGroups.map(function (g) { return markerStyle[g].style; }),
            pointRadius: legendGroups.map(function (g) { return markerStyle[g].radius; }),
            pointRotation: legendGroups.map(function (g) { return markerStyle[g].turned ? 180 : 0; }),
            pointBorderWidth: legendGroups.map(function (g) { return markerStyle[g].width; }),
            pointBorderColor: legendGroups.map(function (g) { return markerStyle[g].edge || groupColour[g]; }),
            pointBackgroundColor: legendGroups.map(function (g) { return markerStyle[g].fill ? groupColour[g] : 'rgba(0,0,0,0)'; })
        }]
    },
    options: {
        layout: { padding: { top: 17 } },
        scales: {
            x: { display: false, min: 0, max: 1 },
            y: { type: 'category', display: false, labels: legendGroups, offset: true }
        }
    },
    plugins: [legendNamesPlugin]
});
</script>
</body>
</html>
